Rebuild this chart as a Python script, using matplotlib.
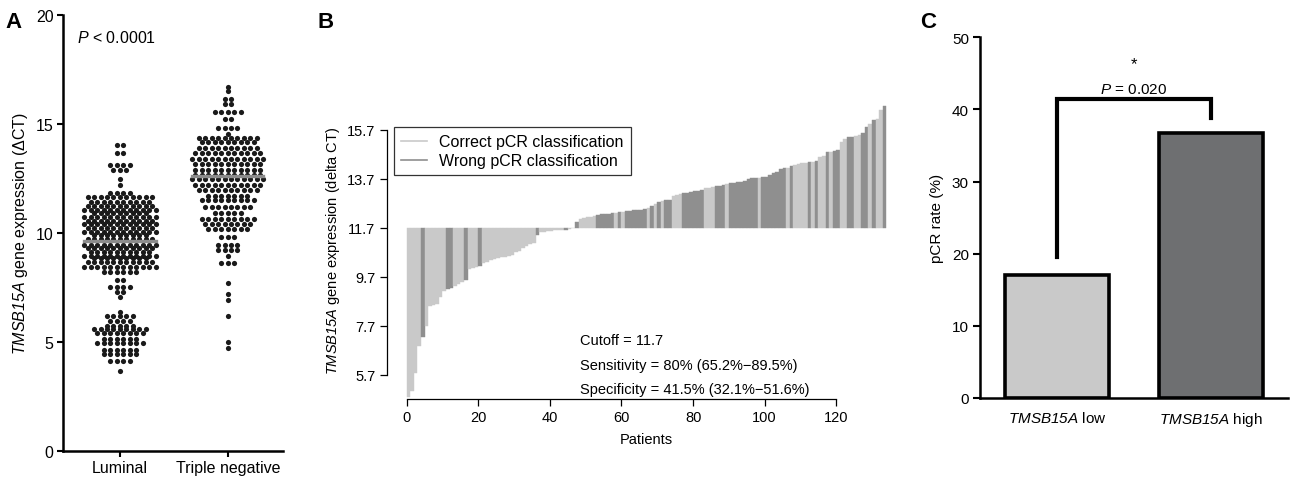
import matplotlib.pyplot as plt
import numpy as np
from matplotlib import lines

plt.rcParams['font.family'] = ['Liberation Sans', 'DejaVu Sans']
plt.rcParams['mathtext.fontset'] = 'custom'
# math parts are only italic gene names / P, so the roman math font is italic too
plt.rcParams['mathtext.rm'] = 'Liberation Sans:italic'
plt.rcParams['mathtext.it'] = 'Liberation Sans:italic'

# ---- Panel A: dot rows (value, dots in row)
lum_levels = [14.01, 13.66, 13.09, 12.9, 12.45, 12.2, 11.82, 11.62, 11.42, 11.22, 11.05,
              10.9, 10.72, 10.55, 10.38, 10.2, 10.02, 9.88, 9.72, 9.45, 9.28, 9.1,
              8.95, 8.82, 8.66, 8.45, 8.19, 7.81, 7.5, 7.27, 7.07, 6.36, 6.16, 5.97,
              5.74, 5.59, 5.39, 5.13, 4.93, 4.63, 4.44, 4.13, 3.67]
lum_counts = [2, 2, 4, 3, 1, 1, 4, 11, 10, 11, 12,
              9, 12, 11, 12, 11, 12, 9, 11, 12, 11, 10,
              12, 9, 11, 12, 6, 2, 4, 2, 1, 1, 5, 4,
              5, 9, 8, 6, 8, 6, 6, 4, 1]
tn_levels = [16.7, 16.5, 16.15, 15.9, 15.55, 15.2, 14.8, 14.55, 14.35, 14.15, 13.9,
             13.65, 13.4, 13.15, 12.9, 12.65, 12.45, 12.2, 11.95, 11.7, 11.5, 11.2,
             10.9, 10.65, 10.4, 10.15, 9.8, 9.45, 9.2, 8.95, 8.6, 7.7, 7.2, 6.9,
             6.2, 5.0, 4.7]
tn_counts = [1, 1, 2, 2, 5, 2, 4, 1, 10, 9, 10,
             11, 12, 11, 11, 11, 12, 11, 10, 7, 9, 8,
             5, 9, 8, 7, 3, 4, 4, 1, 3, 1, 1, 1,
             1, 1, 1]
groups = ["Luminal", "Triple negative"]
medians = [9.6, 12.6]

# ---- Panel B: sorted expression per patient, wrong-classified patient indices
expr = [4.79, 5.06, 5.80, 6.90, 7.24, 7.71, 8.53, 8.55, 8.60, 8.87,
        9.14, 9.21, 9.24, 9.35, 9.41, 9.50, 9.59, 10.03, 10.05, 10.10,
        10.16, 10.27, 10.33, 10.38, 10.43, 10.48, 10.50, 10.53, 10.57, 10.61,
        10.70, 10.77, 10.87, 10.95, 11.05, 11.09, 11.43, 11.52, 11.55, 11.58,
        11.59, 11.60, 11.62, 11.63, 11.63, 11.65, 11.68, 11.93, 12.07, 12.09,
        12.14, 12.16, 12.18, 12.24, 12.26, 12.27, 12.29, 12.30, 12.33, 12.35,
        12.37, 12.39, 12.41, 12.42, 12.43, 12.45, 12.48, 12.50, 12.61, 12.68,
        12.77, 12.82, 12.84, 12.86, 13.02, 13.05, 13.09, 13.13, 13.14, 13.16,
        13.20, 13.22, 13.25, 13.32, 13.35, 13.36, 13.43, 13.43, 13.44, 13.50,
        13.52, 13.54, 13.56, 13.59, 13.63, 13.70, 13.73, 13.74, 13.75, 13.77,
        13.80, 13.86, 13.94, 13.97, 14.11, 14.14, 14.16, 14.22, 14.27, 14.31,
        14.35, 14.37, 14.38, 14.41, 14.45, 14.58, 14.65, 14.79, 14.82, 14.86,
        14.88, 15.20, 15.33, 15.40, 15.43, 15.47, 15.50, 15.58, 15.81, 15.94,
        16.12, 16.14, 16.53, 16.67]
wrong = [4, 11, 12, 16, 20, 36, 44, 47, 53, 54, 55, 56, 57, 59, 61, 62, 63, 64,
         65, 66, 68, 70, 72, 73, 77, 78, 79, 80, 81, 82, 86, 87, 88, 90, 91, 92,
         93, 94, 95, 96, 97, 99, 100, 101, 102, 103, 104, 105, 107, 112, 114,
         117, 119, 120, 123, 124, 127, 128, 130, 133]
cutoff = 11.7
b_yticks = [5.7, 7.7, 9.7, 11.7, 13.7, 15.7]

# ---- Panel C
c_labels = ["$TMSB15A$ low", "$TMSB15A$ high"]
pcr_rate = [17.0, 36.8]

LIGHT = "#c9c9c9"
DARK = "#8f8f8f"

fig = plt.figure(figsize=(12.91, 4.81), dpi=100)

# ================= A
axA = fig.add_axes([0.049, 0.061, 0.170, 0.906])
dx = 0.06
for gi, (levels, counts) in enumerate([(lum_levels, lum_counts), (tn_levels, tn_counts)]):
    xs, ys = [], []
    for lv, n in zip(levels, counts):
        off = (np.arange(n) - (n - 1) / 2) * dx
        xs.extend(gi + 1 + off)
        ys.extend([lv] * n)
    axA.scatter(xs, ys, s=14, color="#1a1a1a", linewidths=0, zorder=2)
    axA.plot([gi + 1 - 0.33, gi + 1 + 0.33], [medians[gi]] * 2, color="#8c8c8c", lw=2.4, zorder=3)
axA.set_xlim(0.474, 2.51)
axA.set_ylim(0, 20)
axA.set_yticks([0, 5, 10, 15, 20])
axA.set_xticks([1, 2])
axA.set_xticklabels(groups)
for s in ["top", "right"]:
    axA.spines[s].set_visible(False)
for s in ["left", "bottom"]:
    axA.spines[s].set_linewidth(1.8)
axA.tick_params(width=1.5, length=4, labelsize=11.5, pad=3)
axA.set_ylabel("$TMSB15A$ gene expression (ΔCT)", fontsize=11.5, labelpad=4)
axA.text(0.6, 19.0, "$P$ < 0.0001", fontsize=11.5, va="center")
fig.text(0.004, 0.975, "A", fontsize=16, fontweight="bold", va="top")

# ================= B
axB = fig.add_axes([0.2995, 0.1684, 0.4026, 0.6204])
n = len(expr)
colors = [DARK if i in wrong else LIGHT for i in range(n)]
heights = np.array(expr) - cutoff
axB.bar(np.arange(n), heights, bottom=cutoff, width=1, align="edge",
        color=colors, edgecolor=colors, linewidth=0.3)
axB.set_xlim(-5.6, 139.6)
axB.set_ylim(4.72, 16.9)
axB.set_yticks(b_yticks)
axB.set_yticklabels([f"{v:.1f}" for v in b_yticks])
axB.set_xticks(np.arange(0, 121, 20))
for s in ["top", "right"]:
    axB.spines[s].set_visible(False)
axB.spines["left"].set_bounds(5.7, 15.7)
axB.spines["bottom"].set_bounds(0, 120)
axB.spines["left"].set_linewidth(0.9)
axB.spines["bottom"].set_linewidth(0.9)
axB.tick_params(width=0.9, length=5, labelsize=10.5, pad=3)
axB.set_xlabel("Patients", fontsize=10.5, labelpad=6)
axB.set_ylabel("$TMSB15A$ gene expression (delta CT)", fontsize=10.5, labelpad=4)
leg = axB.legend(handles=[lines.Line2D([0], [0], color=LIGHT, lw=1.2, label="Correct pCR classification"),
                          lines.Line2D([0], [0], color=DARK, lw=1.2, label="Wrong pCR classification")],
                 loc="upper left", bbox_to_anchor=(0.014, 0.9115), borderaxespad=0,
                 fancybox=False, edgecolor="black", fontsize=11.5, handlelength=1.6,
                 labelspacing=0.25, borderpad=0.45, handletextpad=0.8)
leg.get_frame().set_linewidth(0.9)
axB.text(48.4, 7.13, f"Cutoff = {cutoff}", fontsize=10.5, va="center")
axB.text(48.4, 6.11, "Sensitivity = 80% (65.2%\u221289.5%)", fontsize=10.5, va="center")
axB.text(48.4, 5.13, "Specificity = 41.5% (32.1%\u221251.6%)", fontsize=10.5, va="center")
fig.text(0.246, 0.975, "B", fontsize=16, fontweight="bold", va="top")

# ================= C
axC = fig.add_axes([0.7591, 0.1705, 0.2386, 0.7499])
axC.bar([0, 1], pcr_rate, width=0.67, color=[LIGHT, "#6e6f71"], edgecolor="black", linewidth=2.6)
axC.set_xlim(-0.5, 1.5)
axC.set_ylim(0, 50)
axC.set_yticks([0, 10, 20, 30, 40, 50])
axC.set_xticks([0, 1])
axC.set_xticklabels(c_labels)
for s in ["top", "right"]:
    axC.spines[s].set_visible(False)
for s in ["left", "bottom"]:
    axC.spines[s].set_linewidth(1.8)
axC.tick_params(axis="y", width=1.5, length=5, labelsize=11, pad=3)
axC.tick_params(axis="x", length=0, labelsize=11, pad=9)
axC.set_ylabel("pCR rate (%)", fontsize=11, labelpad=6)
top = max(pcr_rate) + 4.6
axC.plot([0, 0, 1, 1], [pcr_rate[0] + 2.5, top, top, pcr_rate[1] + 2.0],
         color="black", lw=3, solid_joinstyle="miter", clip_on=False)
axC.text(0.5, top + 1.5, "$P$ = 0.020", ha="center", va="center", fontsize=11)
axC.text(0.5, top + 5.0, "*", ha="center", va="center", fontsize=12)
fig.text(0.713, 0.975, "C", fontsize=16, fontweight="bold", va="top")

fig.savefig("out.png", dpi=100)
